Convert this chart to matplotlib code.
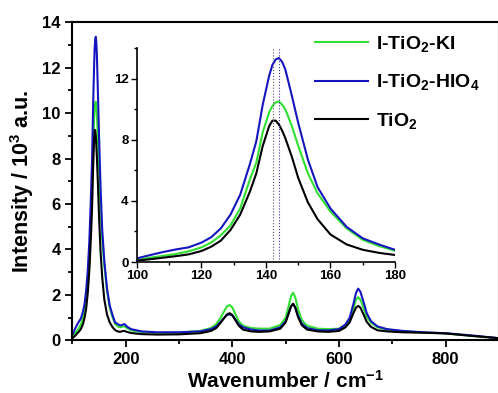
import matplotlib
matplotlib.use('Agg')
import matplotlib.pyplot as plt
from matplotlib.ticker import MultipleLocator

plt.rcParams['font.family'] = ['Liberation Sans', 'DejaVu Sans']
plt.rcParams['font.weight'] = 'bold'
plt.rcParams['mathtext.fontset'] = 'custom'
plt.rcParams['mathtext.rm'] = 'Liberation Sans:bold'
plt.rcParams['mathtext.bf'] = 'Liberation Sans:bold'
plt.rcParams['mathtext.default'] = 'rm'

# Raman spectra (intensity in 10^3 a.u.)
wavenumber = [100, 104, 108, 112, 116, 120, 123, 126, 129, 132, 135, 137, 139, 141, 142,
              143, 144, 145, 146, 148, 150, 153, 156, 160, 165, 170, 175, 180, 185, 190,
              195, 198, 202, 210, 230, 260, 300, 340, 360, 370, 378, 385, 390, 395, 400,
              405, 412, 420, 435, 450, 470, 490, 500, 505, 510, 514, 518, 523, 530, 540,
              560, 580, 600, 612, 620, 627, 632, 636, 640, 646, 652, 660, 672, 690, 720,
              760, 800, 850, 900]

ki = [0.13, 0.28, 0.40, 0.52, 0.70, 0.96, 1.27, 1.75, 2.4, 3.5, 5.4, 6.5, 8.5, 9.8, 10.2,
      10.45, 10.5, 10.3, 10.0, 8.9, 7.6, 5.8, 4.5, 3.3, 2.2, 1.45, 1.05, 0.74, 0.62, 0.58,
      0.62, 0.62, 0.55, 0.45, 0.37, 0.34, 0.35, 0.42, 0.55, 0.72, 1.0, 1.3, 1.5, 1.56, 1.45,
      1.2, 0.85, 0.65, 0.55, 0.52, 0.52, 0.68, 1.0, 1.45, 1.95, 2.1, 1.9, 1.4, 0.9, 0.65,
      0.52, 0.50, 0.52, 0.68, 0.92, 1.4, 1.8, 1.9, 1.8, 1.45, 1.05, 0.78, 0.58, 0.48, 0.40,
      0.35, 0.31, 0.20, 0.10]

hio4 = [0.24, 0.45, 0.65, 0.82, 0.96, 1.27, 1.62, 2.2, 3.1, 4.4, 6.4, 7.9, 10.3, 12.2, 12.9,
        13.25, 13.35, 13.1, 12.6, 10.9, 9.1, 6.7, 4.9, 3.5, 2.3, 1.55, 1.15, 0.80, 0.72, 0.66,
        0.70, 0.72, 0.62, 0.50, 0.40, 0.36, 0.36, 0.40, 0.50, 0.62, 0.82, 1.0, 1.12, 1.15, 1.1,
        0.95, 0.72, 0.58, 0.48, 0.44, 0.44, 0.58, 0.85, 1.15, 1.5, 1.6, 1.45, 1.1, 0.75, 0.55,
        0.45, 0.44, 0.50, 0.70, 1.0, 1.6, 2.1, 2.28, 2.15, 1.7, 1.2, 0.85, 0.62, 0.50, 0.42,
        0.36, 0.32, 0.22, 0.10]

tio2 = [0.09, 0.18, 0.28, 0.38, 0.50, 0.72, 1.0, 1.4, 2.1, 3.1, 4.6, 5.8, 7.6, 8.9, 9.25,
        9.25, 9.0, 8.6, 8.1, 6.9, 5.5, 3.9, 2.8, 1.8, 1.15, 0.80, 0.60, 0.46, 0.40, 0.38,
        0.42, 0.42, 0.38, 0.33, 0.28, 0.26, 0.27, 0.32, 0.42, 0.55, 0.78, 1.0, 1.15, 1.2, 1.12,
        0.92, 0.65, 0.48, 0.40, 0.38, 0.40, 0.52, 0.80, 1.15, 1.5, 1.62, 1.45, 1.05, 0.68, 0.48,
        0.40, 0.38, 0.42, 0.58, 0.80, 1.2, 1.45, 1.52, 1.45, 1.15, 0.82, 0.60, 0.45, 0.40, 0.36,
        0.34, 0.31, 0.20, 0.10]

labels = ['I-TiO$_2$-KI', 'I-TiO$_2$-HIO$_4$', 'TiO$_2$']
colors = ['#30e030', '#1515c0', 'black']
series = [ki, hio4, tio2]

# Eg(1) peak positions marked in the zoom
peak_tio2 = 142.2
peak_doped = 144.0

fig = plt.figure(figsize=(4.98, 3.93), dpi=100)
ax = fig.add_axes([0.1452, 0.1336, 0.8568, 0.8104])

for y, c, lab in zip(series, colors, labels):
    ax.plot(wavenumber, y, color=c, lw=1.5, label=lab)

ax.set_xlim(100, 900)
ax.set_ylim(0, 14)
ax.xaxis.set_major_locator(MultipleLocator(200))
ax.xaxis.set_minor_locator(MultipleLocator(100))
ax.yaxis.set_major_locator(MultipleLocator(2))
ax.yaxis.set_minor_locator(MultipleLocator(1))
ax.tick_params(which='both', direction='out', width=1.3, labelsize=12)
ax.tick_params(which='major', length=5)
ax.tick_params(which='minor', length=3)
for s in ax.spines.values():
    s.set_linewidth(1.5)
ax.set_xlabel('Wavenumber / cm$^{\\mathrm{-}1}$', fontsize=15, fontweight='bold', labelpad=2)
ax.set_ylabel('Intensity / 10$^3$ a.u.', fontsize=15.5, fontweight='bold', labelpad=4)

leg = ax.legend(loc='upper left', bbox_to_anchor=(315 / 498, 1 - 34 / 393),
                bbox_transform=fig.transFigure, frameon=False, fontsize=14,
                handlelength=2.7, handletextpad=0.45, labelspacing=0.95,
                borderpad=0, borderaxespad=0)
for t in leg.get_texts():
    t.set_fontweight('bold')

# zoom on the main peak
ins = fig.add_axes([0.2751, 0.3333, 0.518, 0.5445])
for y, c in zip(series, colors):
    ins.plot(wavenumber, y, color=c, lw=1.5)
ins.axvline(peak_tio2, color='#555566', lw=0.8, ls=':')
ins.axvline(peak_doped, color='#3333aa', lw=0.8, ls=':')
ins.set_xlim(100, 180)
ins.set_ylim(0, 14)
ins.xaxis.set_major_locator(MultipleLocator(20))
ins.xaxis.set_minor_locator(MultipleLocator(10))
ins.yaxis.set_major_locator(MultipleLocator(4))
ins.yaxis.set_minor_locator(MultipleLocator(2))
ins.spines['top'].set_visible(False)
ins.spines['right'].set_visible(False)
ins.spines['left'].set_linewidth(1.2)
ins.spines['bottom'].set_linewidth(1.2)
ins.tick_params(which='both', direction='out', width=1.0, labelsize=9.5, pad=2)
ins.tick_params(which='major', length=4)
ins.tick_params(which='minor', length=2.5)
ins.patch.set_alpha(0)

fig.savefig('out.png', dpi=100)
